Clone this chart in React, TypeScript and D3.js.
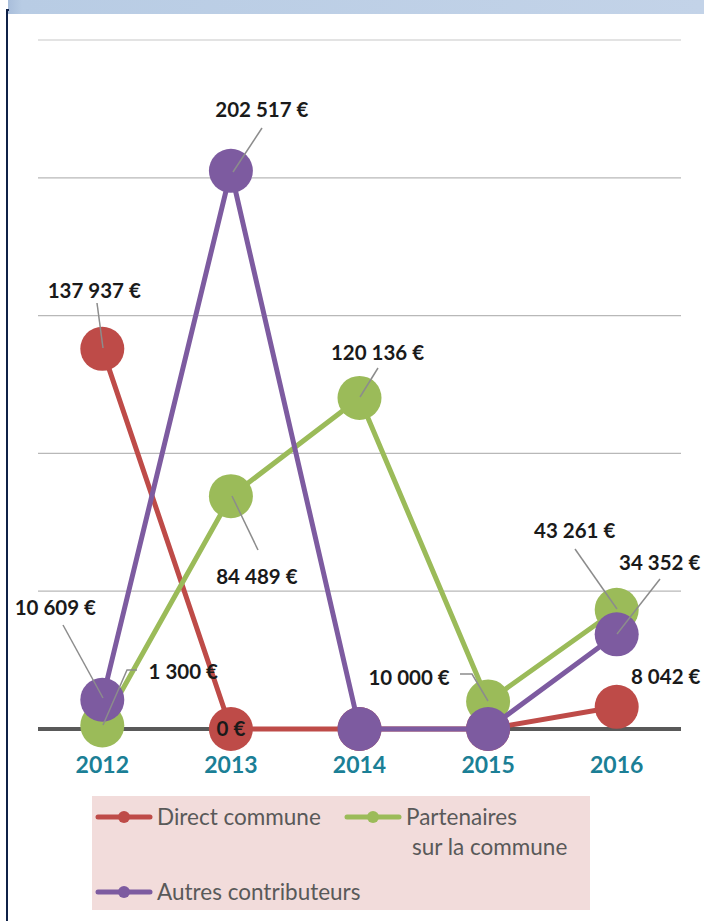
import React from 'react';
import * as d3 from 'd3';

const years = ['2012', '2013', '2014', '2015', '2016'];
const directCommune = [137937, 0, 0, 0, 8042];
const partenaires = [1300, 84489, 120136, 10000, 43261];
const autres = [10609, 202517, 0, 0, 34352];
const yTicks = [0, 50000, 100000, 150000, 200000, 250000];

const series = [
  { name: 'Direct commune', values: directCommune, color: '#be4b48' },
  { name: 'Partenaires sur la commune', values: partenaires, color: '#9bbb59' },
  { name: 'Autres contributeurs', values: autres, color: '#7d5ba0' },
];

// labels: series index, year index, label offset, leader elbow
const labels = [
  { s: 0, i: 0, dx: -8, dy: -58, leader: [[103, 348], [97, 303]] },
  { s: 0, i: 1, dx: 0, dy: 0, leader: null },
  { s: 0, i: 4, dx: 49, dy: -30, leader: null },
  { s: 1, i: 0, dx: 81, dy: -54, leader: [[103, 725], [127, 670], [137, 670]] },
  { s: 1, i: 1, dx: 26, dy: 81, leader: [[232, 496], [258, 550]] },
  { s: 1, i: 2, dx: 18, dy: -45, leader: [[360, 397], [378, 368]] },
  { s: 1, i: 3, dx: -79, dy: -24, leader: [[488, 701], [472, 674], [460, 674]] },
  { s: 1, i: 4, dx: -42, dy: -79, leader: [[617, 609], [575, 549]] },
  { s: 2, i: 0, dx: -47, dy: -92, leader: [[103, 698], [63, 625]] },
  { s: 2, i: 1, dx: 31, dy: -61, leader: [[233, 172], [262, 128]] },
  { s: 2, i: 4, dx: 43, dy: -72, leader: [[617, 634], [660, 579]] },
];

const fmt = (v: number) => d3.format(',')(v).replace(/,/g, ' ') + ' €';

export default function App() {
  const x = d3.scaleBand().domain(years).range([38, 681]);
  const y = d3.scaleLinear().domain([0, 250000]).range([729, 40]);
  const cx = (i: number) => (x(years[i]) as number) + x.bandwidth() / 2;
  const line = d3.line<number>().x((_, i) => cx(i)).y((d) => y(d));

  return (
    <svg width={704} height={921} style={{ position: 'absolute', left: 0, top: 0, background: '#fff' }}
      fontFamily="Lato, 'Open Sans', sans-serif">
      <defs>
        <linearGradient id="band" x1="0" x2="1">
          <stop offset="0" stopColor="#a9bedb" />
          <stop offset="0.02" stopColor="#b8cce4" />
          <stop offset="1" stopColor="#c3d3e8" />
        </linearGradient>
      </defs>
      <rect x={8} y={0} width={696} height={14} fill="url(#band)" />
      <line x1={7} x2={7} y1={10} y2={921} stroke="#0f2147" strokeWidth={2} />
      <line x1={6} x2={9} y1={10} y2={10} stroke="#0f2147" strokeWidth={2} />

      {yTicks.slice(1).map((t) => (
        <line key={t} x1={38} x2={681} y1={y(t)} y2={y(t)}
          stroke={t === 250000 ? '#e3e3e3' : '#b8b8b8'} strokeWidth={t === 250000 ? 2 : 1.3} />
      ))}
      <line x1={38} x2={681} y1={y(0)} y2={y(0)} stroke="#595959" strokeWidth={4} />

      {years.map((yr, i) => (
        <text key={yr} x={cx(i)} y={773} textAnchor="middle" fontSize={23} fontWeight="bold" fill="#1b7f96">{yr}</text>
      ))}

      {series.map((s) => (
        <g key={s.name}>
          <path d={line(s.values) as string} fill="none" stroke={s.color} strokeWidth={5} strokeLinejoin="round" />
          {s.values.map((v, i) => (
            <circle key={i} cx={cx(i)} cy={y(v)} r={22} fill={s.color} />
          ))}
        </g>
      ))}

      {labels.map((l, k) => {
        const v = series[l.s].values[l.i];
        return (
          <g key={k}>
            {l.leader && (
              <polyline points={l.leader.map((p) => p.join(',')).join(' ')} fill="none" stroke="#8c8c8c" strokeWidth={1.5} />
            )}
            <text x={cx(l.i) + l.dx} y={y(v) + l.dy} dy="0.35em" textAnchor="middle" fontSize={20.5} fontWeight="bold" fill="#1a1a1a">
              {fmt(v)}
            </text>
          </g>
        );
      })}

      <rect x={92} y={796} width={498} height={114} fill="#f2dcdb" />
      {[
        { s: 0, x0: 98, yy: 817, lines: ['Direct commune'] },
        { s: 1, x0: 347, yy: 817, lines: ['Partenaires', ' sur la commune'] },
        { s: 2, x0: 98, yy: 892, lines: ['Autres contributeurs'] },
      ].map((e) => (
        <g key={e.s}>
          <line x1={e.x0} x2={e.x0 + 52} y1={e.yy} y2={e.yy} stroke={series[e.s].color} strokeWidth={5} strokeLinecap="round" />
          <circle cx={e.x0 + 26} cy={e.yy} r={6} fill={series[e.s].color} />
          {e.lines.map((t, j) => (
            <text key={j} x={e.x0 + 59 + (j ? 6 : 0)} y={e.yy + j * 30} dy="0.35em" fontSize={22.5} fill="#595959">{t.trim()}</text>
          ))}
        </g>
      ))}
    </svg>
  );
}
